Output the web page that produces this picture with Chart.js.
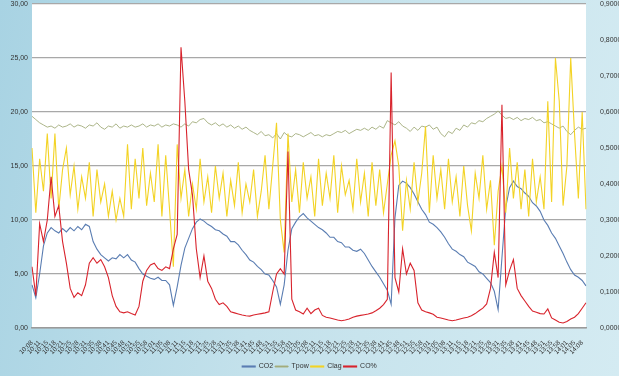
<!DOCTYPE html>
<html>
<head>
<meta charset="utf-8">
<script src="https://cdn.jsdelivr.net/npm/chart.js@4.4.0/dist/chart.umd.min.js"></script>
<style>
    html, body { margin: 0; padding: 0; }
    body {
        width: 619px; height: 376px; overflow: hidden;
        background: linear-gradient(100deg, #a8d3e3 0%, #c3e1eb 45%, #d4ebf2 100%);
    }
    #wrap { position: relative; width: 619px; height: 376px; }
</style>
</head>
<body>
<div id="wrap"><canvas id="chart"></canvas></div>
<script>
// Tick labels (one label every second point)
const timeLabels = [
    '10:08','10:11','10:15','10:18','10:21','10:25','10:28','10:31','10:35','10:38',
    '10:41','10:45','10:48','10:51','10:55','10:58','11:01','11:05','11:08','11:11',
    '11:15','11:18','11:21','11:25','11:28','11:31','11:35','11:38','11:41','11:45',
    '11:48','11:51','11:55','11:58','12:01','12:05','12:08','12:11','12:15','12:18',
    '12:21','12:25','12:28','12:31','12:35','12:38','12:41','12:45','12:48','12:51',
    '12:55','12:58','13:01','13:05','13:08','13:11','13:15','13:18','13:21','13:25',
    '13:28','13:31','13:35','13:38','13:41','13:45','13:48','13:51','13:55','13:58',
    '14:01','14:05','14:08'
];

// CO2 - left axis
const co2 = [
    4.0, 2.8, 5.0, 7.6, 8.8, 9.3, 9.0, 8.8, 9.2, 8.9,
    9.3, 9.0, 9.4, 9.1, 9.6, 9.4, 8.0, 7.3, 6.8, 6.5,
    6.2, 6.5, 6.4, 6.8, 6.5, 6.8, 6.3, 6.1, 5.5, 5.0,
    4.8, 4.6, 4.5, 4.7, 4.4, 4.4, 4.0, 2.1, 3.8, 5.8,
    7.4, 8.3, 9.2, 9.8, 10.1, 9.9, 9.6, 9.4, 9.1, 9.0,
    8.7, 8.5, 8.0, 8.0, 7.7, 7.2, 6.8, 6.3, 6.1, 5.7,
    5.4, 5.0, 4.9, 4.4, 3.8, 2.2, 4.0, 7.2, 9.2, 9.8,
    10.3, 10.6, 10.2, 9.9, 9.6, 9.3, 9.1, 8.8, 8.4, 8.4,
    8.0, 7.9, 7.5, 7.5, 7.2, 7.1, 7.3, 6.9, 6.3, 5.7,
    5.2, 4.7, 4.1, 3.5, 2.2, 10.2, 13.2, 13.6, 13.4, 13.0,
    12.4, 11.7, 11.0, 10.5, 9.8, 9.6, 9.3, 8.9, 8.4, 7.8,
    7.3, 7.1, 6.8, 6.6, 6.1, 5.9, 5.7, 5.2, 5.0, 4.6,
    4.2, 3.4, 1.7, 6.5, 11.2, 13.0, 13.6, 13.1, 12.9, 12.5,
    12.2, 11.6, 11.3, 10.8, 10.0, 9.5, 8.8, 8.3, 7.6, 6.9,
    6.1, 5.4, 4.9, 4.7, 4.4, 3.9
];

// Tpow - left axis
const tpow = [
    19.6, 19.3, 19.0, 18.8, 18.6, 18.7, 18.5, 18.8, 18.6, 18.7,
    18.9, 18.6, 18.8, 18.7, 18.5, 18.8, 18.7, 19.0, 18.6, 18.4,
    18.7, 18.6, 18.9, 18.5, 18.7, 18.6, 18.8, 18.6, 18.7, 18.9,
    18.6, 18.8, 18.7, 18.9, 18.6, 18.8, 18.7, 18.9, 18.8, 18.6,
    18.9, 18.7, 19.1, 19.0, 19.3, 19.4, 19.0, 18.8, 19.0, 18.7,
    18.9, 18.6, 18.8, 18.5, 18.7, 18.4, 18.6, 18.3, 18.1, 17.9,
    18.2, 17.8, 17.9, 17.6, 18.0, 17.5, 18.1, 17.8, 17.7, 18.0,
    17.9, 17.7, 17.9, 18.1, 17.8, 17.9, 17.7, 17.9, 17.8, 18.0,
    18.2, 18.1, 18.3, 18.0, 18.2, 18.4, 18.3, 18.5, 18.3, 18.6,
    18.4, 18.7, 18.5, 19.2, 19.0, 18.8, 19.1, 18.7, 18.5, 18.2,
    18.6, 18.3, 18.7, 18.6, 18.8, 18.4, 18.6, 18.0, 17.7, 18.2,
    18.0, 18.5, 18.3, 18.8, 18.6, 19.0, 18.9, 19.2, 19.1, 19.4,
    19.6, 19.8, 20.1, 19.7, 19.4, 19.5, 19.3, 19.5, 19.2, 19.4,
    19.3, 19.5, 19.2, 19.3, 19.0, 19.1, 18.9, 18.7, 18.5, 18.7,
    18.2, 17.9, 18.3, 18.6, 18.4, 18.5
];

// Clag - right axis
const clag = [
    0.50, 0.32, 0.47, 0.38, 0.54, 0.36, 0.54, 0.33, 0.44, 0.50,
    0.37, 0.45, 0.33, 0.42, 0.36, 0.46, 0.31, 0.44, 0.35, 0.40,
    0.31, 0.38, 0.30, 0.36, 0.31, 0.51, 0.33, 0.47, 0.36, 0.50,
    0.34, 0.43, 0.35, 0.51, 0.31, 0.48, 0.33, 0.17, 0.51, 0.36,
    0.44, 0.31, 0.40, 0.33, 0.47, 0.35, 0.42, 0.32, 0.45, 0.36,
    0.43, 0.31, 0.41, 0.34, 0.46, 0.32, 0.40, 0.35, 0.44, 0.31,
    0.38, 0.48, 0.33, 0.45, 0.57, 0.30, 0.21, 0.54, 0.35, 0.44,
    0.32, 0.46, 0.36, 0.42, 0.31, 0.47, 0.34, 0.43, 0.36, 0.48,
    0.32, 0.45, 0.37, 0.41, 0.33, 0.47, 0.35, 0.43, 0.31, 0.46,
    0.34, 0.44, 0.32, 0.40, 0.48, 0.52, 0.45, 0.27, 0.41, 0.33,
    0.46, 0.35, 0.43, 0.56, 0.32, 0.48, 0.36, 0.44, 0.33, 0.47,
    0.35, 0.42, 0.31, 0.45, 0.34, 0.27, 0.43, 0.36, 0.48, 0.33,
    0.41, 0.23, 0.38, 0.45, 0.32, 0.50, 0.36, 0.46, 0.33, 0.44,
    0.31, 0.47, 0.35, 0.42, 0.33, 0.63, 0.35, 0.75, 0.63, 0.34,
    0.45, 0.75, 0.54, 0.36, 0.60, 0.33
];

// CO% - right axis
const coPct = [
    0.17, 0.09, 0.29, 0.24, 0.30, 0.42, 0.31, 0.34, 0.24, 0.18,
    0.11, 0.085, 0.098, 0.09, 0.12, 0.18, 0.195, 0.18, 0.19, 0.17,
    0.14, 0.09, 0.06, 0.045, 0.042, 0.045, 0.04, 0.036, 0.06, 0.13,
    0.16, 0.175, 0.18, 0.165, 0.16, 0.17, 0.165, 0.22, 0.26, 0.78,
    0.63, 0.44, 0.37, 0.22, 0.14, 0.20, 0.13, 0.11, 0.08, 0.065,
    0.07, 0.06, 0.045, 0.042, 0.039, 0.036, 0.034, 0.033, 0.036, 0.038,
    0.040, 0.042, 0.045, 0.10, 0.15, 0.165, 0.15, 0.49, 0.08, 0.05,
    0.045, 0.039, 0.055, 0.04, 0.05, 0.055, 0.035, 0.03, 0.028, 0.025,
    0.022, 0.02, 0.022, 0.025, 0.03, 0.033, 0.035, 0.037, 0.039, 0.042,
    0.048, 0.055, 0.065, 0.08, 0.71, 0.14, 0.10, 0.22, 0.15, 0.18,
    0.16, 0.07, 0.05, 0.045, 0.042, 0.038, 0.03, 0.028, 0.025, 0.022,
    0.02, 0.022, 0.025, 0.028, 0.03, 0.034, 0.04, 0.048, 0.055, 0.067,
    0.11, 0.21, 0.14, 0.62, 0.12, 0.16, 0.19, 0.11, 0.09, 0.075,
    0.06, 0.047, 0.044, 0.04, 0.039, 0.053, 0.028, 0.022, 0.016, 0.014,
    0.018, 0.025, 0.03, 0.04, 0.055, 0.07
];

// Every second category carries a visible label
const categories = timeLabels.flatMap(t => [t, '']);

const fmt = (v, d) => v.toFixed(d).replace('.', ',');

// White plot area on top of the page gradient
const plotBackground = {
    id: 'plotBackground',
    beforeDraw(chart) {
        const { ctx, chartArea: a } = chart;
        ctx.save();
        ctx.fillStyle = '#ffffff';
        ctx.fillRect(a.left, a.top, a.right - a.left, a.bottom - a.top);
        ctx.restore();
    }
};

function makeLine(label, data, color, axis, width, order) {
    return {
        label: label,
        data: data,
        yAxisID: axis,
        borderColor: color,
        backgroundColor: color,
        borderWidth: width,
        pointRadius: 0,
        tension: 0,
        order: order
    };
}

// Fixed side widths so the plot area lands where the original one is
function fitY(width) {
    return s => {
        s.width = width;
        s.paddingTop = 4;
        s.paddingBottom = 0;
    };
}

new Chart(document.getElementById('chart'), {
    type: 'line',
    data: {
        labels: categories,
        datasets: [
            makeLine('CO2', co2, '#5a7db2', 'y', 1.1, 4),
            makeLine('Tpow', tpow, '#a3ad7c', 'y', 0.9, 3),
            makeLine('Clag', clag, '#f3d325', 'y1', 1.1, 2),
            makeLine('CO%', coPct, '#d8232c', 'y1', 1.1, 1)
        ]
    },
    options: {
        responsive: true,
        maintainAspectRatio: false,
        animation: false,
        layout: { padding: { top: 0, left: 0, right: 0, bottom: -4 } },
        plugins: {
            legend: {
                position: 'bottom',
                labels: {
                    boxWidth: 13,
                    boxHeight: 1,
                    padding: 2,
                    color: '#333',
                    font: { family: 'Liberation Sans', size: 7 },
                    sort: (a, b) => a.datasetIndex - b.datasetIndex
                }
            },
            tooltip: { enabled: false }
        },
        scales: {
            x: {
                offset: false,
                grid: { display: false },
                border: { display: true, color: '#9a9a9a', width: 1.5 },
                ticks: {
                    autoSkip: false,
                    maxRotation: 45,
                    minRotation: 45,
                    padding: 3,
                    color: '#333',
                    font: { family: 'Liberation Sans', size: 6.5 },
                    callback: (v, i) => categories[i]
                },
                afterFit: s => { s.height = 33; s.paddingLeft = 0; }
            },
            y: {
                position: 'left',
                min: 0,
                max: 30,
                grid: { color: '#a8a8a8', lineWidth: 1.3, drawTicks: false },
                border: { display: false },
                ticks: {
                    stepSize: 5,
                    padding: 4,
                    color: '#333',
                    font: { family: 'Liberation Sans', size: 7 },
                    callback: v => fmt(v, 2)
                },
                afterFit: fitY(32)
            },
            y1: {
                position: 'right',
                min: 0,
                max: 0.9,
                grid: { display: false },
                border: { display: false },
                ticks: {
                    stepSize: 0.1,
                    padding: 6,
                    color: '#333',
                    font: { family: 'Liberation Sans', size: 7 },
                    callback: v => fmt(v, 4)
                },
                afterFit: fitY(33)
            }
        }
    },
    plugins: [plotBackground]
});
</script>
</body>
</html>
